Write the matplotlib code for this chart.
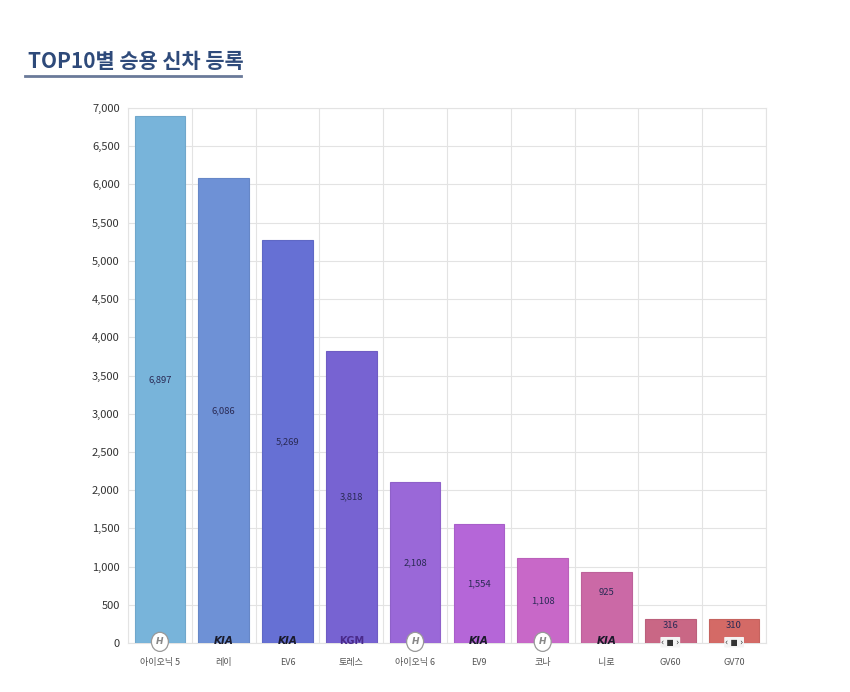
import matplotlib
matplotlib.use("Agg")
import matplotlib.pyplot as plt
from matplotlib.lines import Line2D
import numpy as np

plt.rcParams['font.family'] = ['Noto Sans CJK KR', 'DejaVu Sans']

title = "TOP10별 승용 신차 등록"
categories = ["아이오닉 5", "레이", "EV6", "토레스", "아이오닉 6", "EV9", "코나", "니로", "GV60", "GV70"]
values = [6897, 6086, 5269, 3818, 2108, 1554, 1108, 925, 316, 310]
brands = ["HYUNDAI", "KIA", "KIA", "KGM", "HYUNDAI", "KIA", "HYUNDAI", "KIA", "GENESIS", "GENESIS"]
colors = ["#78b4da", "#6e91d6", "#6670d4", "#7763d2", "#9a68d8",
          "#b566d8", "#c868c8", "#cb69a6", "#c96785", "#d46a66"]
yticks = list(range(0, 7001, 500))

fig = plt.figure(figsize=(8.5, 6.92), dpi=100)
fig.patch.set_facecolor("white")
ax = fig.add_axes([128/850, 1-643/692, (766-128)/850, (643-108)/692])

x = np.arange(len(categories))
bars = ax.bar(x, values, width=0.79, color=colors, linewidth=0.8, zorder=3)
for b in bars:
    b.set_edgecolor(tuple(v*0.93 for v in matplotlib.colors.to_rgb(b.get_facecolor())))

ax.set_xlim(-0.5, len(categories)-0.5)
ax.set_ylim(0, 7000)
ax.set_yticks(yticks)
ax.set_yticklabels([f"{v:,}" for v in yticks], fontsize=8, color="#333333")
ax.set_xticks(x)
ax.set_xticklabels(categories, fontsize=6.5, color="#555555")
ax.tick_params(axis='both', length=0, pad=6)
ax.tick_params(axis='x', pad=11)

ax.grid(axis='y', color="#e3e3e3", linewidth=0.8, zorder=0)
for b in np.arange(-0.5, len(categories)+0.5, 1):
    ax.axvline(b, color="#e3e3e3", linewidth=0.8, zorder=0)
for s in ax.spines.values():
    s.set_color("#e3e3e3")
    s.set_linewidth(0.8)

for xi, v in zip(x, values):
    ypos = v/2 if v > 1000 else v*0.72
    ax.text(xi, ypos, f"{v:,}", ha='center', va='center', fontsize=6.8,
            color="#2a2a55", zorder=4)

for xi, br in zip(x, brands):
    if br == "HYUNDAI":
        ax.text(xi, 15, "H", ha='center', va='center', fontsize=6.5, style='italic',
                fontweight='bold', color="#888888", zorder=5, family=['DejaVu Sans'],
                bbox=dict(boxstyle="ellipse,pad=0.25", fc="white", ec="#999999", lw=0.9))
    elif br == "KIA":
        ax.text(xi, 25, "KIA", ha='center', va='center', fontsize=7.5, style='italic',
                fontweight='bold', color="#1a1a2a", zorder=5, family=['DejaVu Sans'])
    elif br == "KGM":
        ax.text(xi, 25, "KGM", ha='center', va='center', fontsize=7, fontweight='bold',
                color="#4a2a8a", zorder=5, family=['DejaVu Sans'])
    else:
        ax.text(xi, 10, "‹ ■ ›", ha='center', va='center', fontsize=5.5,
                color="#333333", zorder=5, family=['DejaVu Sans'],
                bbox=dict(boxstyle="round,pad=0.1", fc="#f4f4f4", ec="none"))

fig.text(28/850, 1-62/692, title, fontsize=15, fontweight='bold', color="#2e4a7a",
         ha='left', va='center')
fig.add_artist(Line2D([25/850, 241/850], [1-76/692, 1-76/692], color="#6a7a99",
                      linewidth=2, transform=fig.transFigure))

fig.savefig("out.png", dpi=100, facecolor="white")
